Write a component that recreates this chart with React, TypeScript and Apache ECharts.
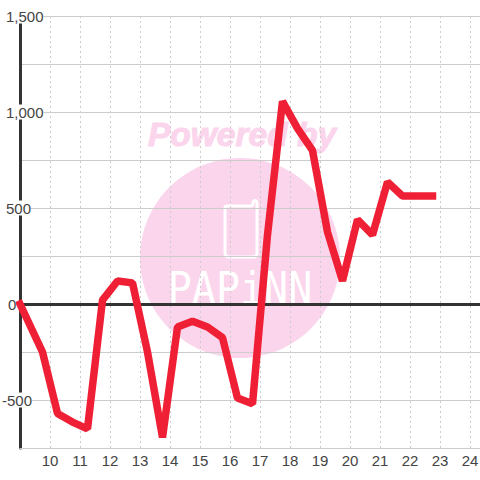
import React, { useEffect, useRef } from "react";
import * as echarts from "echarts";

const hours = [9, 9.75, 10.25, 10.75, 11.25, 11.75, 12.25, 12.75, 13.25, 13.75, 14.25, 14.75, 15.25, 15.75, 16.25, 16.75, 17.25, 17.75, 18.25, 18.75, 19.25, 19.75, 20.25, 20.75, 21.25, 21.75, 22.25, 22.75];
const values = [0, -250, -570, -615, -650, 20, 120, 110, -250, -695, -120, -90, -120, -175, -490, -520, 360, 1055, 915, 800, 375, 120, 440, 360, 635, 562, 562, 562];
const labelPad: Record<string, string> = { "1500": "a", "1000": "a", "500": "a", "0": "b", "-500": "c" };
const PHONE = "M227 206 L250 206 Q253 206 253 204 L253 202 Q255 199 257 202 L257 253 Q257 257 253 257 L229 257 Q225 257 225 253 L225 208 Q225 206 227 206 Z";

const PINK = "#fbd5ec";
const labelBase = { fontSize: 15, fontFamily: "Liberation Sans", color: "#444", backgroundColor: "#fff", lineHeight: 15 };

export default function App() {
  const ref = useRef<HTMLDivElement>(null);
  useEffect(() => {
    document.body.style.margin = "0";
    echarts.graphic.registerShape("phoneLogo", echarts.graphic.extendPath(PHONE, {}) as any);
    const chart = echarts.init(ref.current!, undefined, { renderer: "svg" });
    const lineOnly = { min: 9, max: 24.3333, interval: 1 };
    chart.setOption({
      animation: false,
      backgroundColor: "#fff",
      grid: { left: 20, right: 0, top: 16, bottom: 32, outerBoundsMode: "none" },
      graphic: [
        { type: "circle", z: -1, silent: true, shape: { cx: 240, cy: 258, r: 100 }, style: { fill: PINK } },
        { type: "text", z: -1, silent: true, x: 242, y: 134, style: { text: "Powered by", fill: PINK, stroke: PINK, lineWidth: 1, font: "italic bold 33.5px 'Liberation Sans'", align: "center", verticalAlign: "middle" } },
        { type: "phoneLogo", z: -1, silent: true, x: 0, y: 0, style: { fill: "none", stroke: "#fff", lineWidth: 3 } },
        { type: "text", z: -1, silent: true, x: 240, y: 289, scaleY: 1.1, style: { text: "PAPiNN", fill: "#fff", font: "40px 'DejaVu Sans Mono'", align: "center", verticalAlign: "middle" } },
      ],
      xAxis: [
        {
          type: "value",
          ...lineOnly,
          position: "bottom",
          axisLine: { show: true, onZero: false, lineStyle: { color: "#ccc", width: 1 } },
          axisTick: { show: false },
          axisLabel: {
            margin: 5,
            fontSize: 15,
            fontFamily: "Liberation Sans",
            color: "#444",
            showMinLabel: false,
            formatter: (v: number) => (Number.isInteger(v) && v > 9 ? String(v) : ""),
          },
          splitLine: { show: true, lineStyle: { color: "#ccc", type: [2, 3], width: 1 } },
        },
        {
          type: "value",
          ...lineOnly,
          position: "bottom",
          axisLine: { show: true, onZero: true, lineStyle: { color: "#333", width: 3 } },
          axisTick: { show: false },
          axisLabel: { show: false },
          splitLine: { show: false },
        },
      ],
      yAxis: {
        type: "value",
        min: -750,
        max: 1500,
        interval: 250,
        axisLine: { show: true, onZero: false, lineStyle: { color: "#333", width: 3 } },
        axisTick: { show: false },
        axisLabel: {
          align: "left",
          margin: 18,
          hideOverlap: false,
          formatter: (v: number) => {
            const k = labelPad[String(v)];
            if (!k) return "";
            return `{${k}|${v === 0 ? "0" : v.toLocaleString("en-US")}}`;
          },
          rich: {
            a: { ...labelBase, padding: [0, 0, 0, 4] },
            b: { ...labelBase, padding: [0, 0, 0, 6] },
            c: { ...labelBase },
          },
        },
        splitLine: { show: true, lineStyle: { color: "#ccc", width: 1 } },
      },
      series: [
        {
          type: "line",
          xAxisIndex: 0,
          data: hours.map((h, i) => [h, values[i]]),
          showSymbol: false,
          clip: false,
          lineStyle: { color: "#ef2036", width: 7.5, cap: "square" },
        },
      ],
    });
    return () => chart.dispose();
  }, []);
  return <div ref={ref} style={{ width: 480, height: 480 }} />;
}
